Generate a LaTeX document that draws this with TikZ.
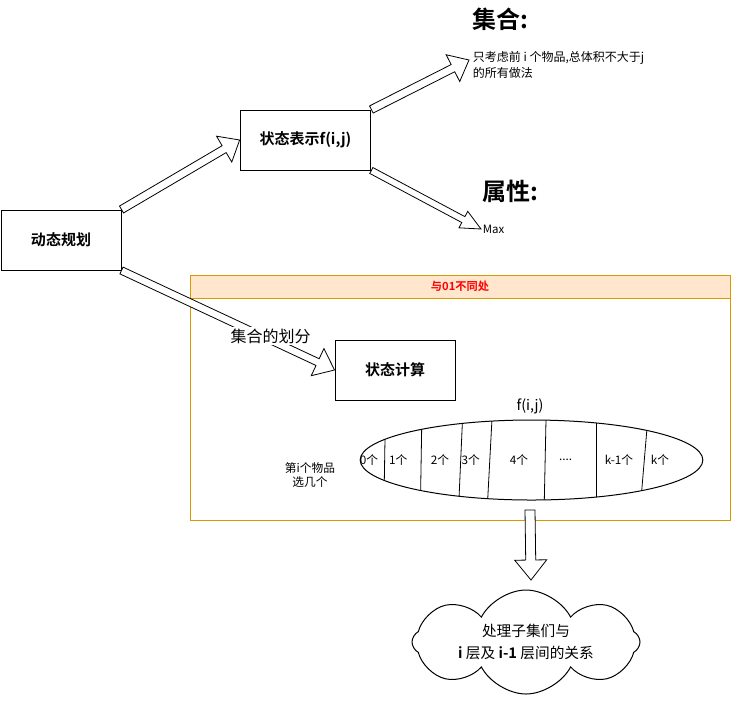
\documentclass[tikz,border=0pt]{standalone}
\usepackage{fontspec}
\setmainfont{Noto Sans CJK SC}[BoldFont={Noto Sans CJK SC Bold}]
\usetikzlibrary{calc, shapes.geometric, shapes.symbols}

\definecolor{frameorange}{HTML}{D79B00}
\definecolor{headorange}{HTML}{FFE6CC}
\newcommand{\fourdots}{....}

% block arrow: shaft half width, head half width, head length, from, to
\newcommand{\fatarrow}[5]{%
  \coordinate (fab) at ($(#5)!#3!(#4)$);
  \draw[fat arrow] ($(#4)!#1!90:(#5)$) -- ($(fab)!#1!-90:(#4)$)
    -- ($(fab)!#2!-90:(#4)$) -- (#5) -- ($(fab)!#2!90:(#4)$)
    -- ($(fab)!#1!90:(#4)$) -- ($(#4)!#1!-90:(#5)$) -- cycle;}

\begin{document}
\begin{tikzpicture}[x=0.75pt, y=-0.75pt, line width=0.75pt]
        % Setup the styles
        \tikzset{box style/.style={draw, minimum width=90pt, minimum height=45pt,
                                   inner sep=2pt,
                                   font=\fontsize{11.25}{13}\selectfont\bfseries},
                 head style/.style={inner sep=1pt, font=\fontsize{18}{20}\selectfont\bfseries},
                 note style/.style={inner sep=1pt, align=left,
                                    font=\fontsize{9}{12}\selectfont},
                 small style/.style={inner sep=1pt, align=center,
                                     font=\fontsize{8.8}{10.5}\selectfont},
                 fat arrow/.style={draw, fill=white, line width=0.6pt, line join=miter}}
        \useasboundingbox (0, 0) rectangle (731, 701);

        % The frame of the differences
        \draw[frameorange] (190, 275) rectangle (730, 520);
        \filldraw[draw=frameorange, fill=headorange] (190, 275) rectangle (730, 298);
        \node[small style, text=red, font=\fontsize{8.4}{10}\selectfont\bfseries]
            at (460, 286.5) (diff) {与01不同处};

        % Draw the boxes
        \node[box style] at (61, 240)    (dp)   {动态规划};
        \node[box style, minimum width=98pt] at (305.5, 140) (rep) {状态表示f(i,j)};
        \node[box style] at (395, 370)   (calc) {状态计算};

        % Texts on the right
        \node[head style] at (500, 19)   (setT)  {集合:};
        \node[note style, anchor=west] at (471, 65) (setD)
            {只考虑前 i 个物品,总体积不大于j\\的所有做法};
        \node[head style] at (510, 191)  (attrT) {属性:};
        \node[small style, anchor=west, font=\fontsize{8.6}{10}\selectfont]
            at (481, 229) (maxT) {Max};
        \coordinate (setTip) at (469, 60);

        % The set split into parts
        \node[small style, font=\fontsize{10.8}{12}\selectfont] at (530, 406) (fij) {f(i,j)};
        \node[draw, ellipse, minimum width=257pt, minimum height=60pt, inner sep=0pt]
            at (531.5, 460) (ell) {};
        \begin{scope}
            \clip (ell.center) ellipse [x radius=171.5, y radius=40];
            \foreach \xt/\xb in {385.4/383.9, 421.9/420.4, 462.7/458.7, 492.2/487.4,
                                 546.1/544.2, 596/596, 648.1/640.5}
                \draw[line width=0.6pt] (\xt, 415) -- (\xb, 505);
        \end{scope}
        \foreach \x/\t [count=\i] in {369/0个, 398.3/1个, 440/2个, 470.7/3个,
                                      519/4个, 565.7/\fourdots, 619/k-1个, 660/k个}
            \node[small style] at (\x, 460) (part\i) {\t};
        \node[small style] at (310, 475) (sel) {第i个物品\\选几个};

        % The cloud
        \node[draw, cloud, cloud puffs=8, cloud puff arc=125, cloud ignores aspect,
              minimum width=171pt, minimum height=78pt, inner sep=0pt]
            at (526, 642) (rel) {};
        \node[align=center, font=\fontsize{11}{16}\selectfont] at (rel.center) (relT)
            {处理子集们与\\\textbf{i} 层及 \textbf{i-1} 层间的关系};
        \coordinate (downS) at (530, 510);
        \coordinate (downE) at (531, 580);

        % Connect with block arrows
        \fatarrow{3pt}{11.25pt}{13.5pt}{dp.north east}{rep.west}
        \fatarrow{3pt}{11.25pt}{13.5pt}{rep.north east}{setTip}
        \fatarrow{2.5pt}{7pt}{15pt}{rep.south east}{maxT.west}
        \fatarrow{2.8pt}{11.25pt}{14pt}{dp.south east}{calc.west}
        \fatarrow{3.75pt}{12pt}{15pt}{downS}{downE}
        \node[fill=white, inner sep=1pt, font=\fontsize{12}{14}\selectfont]
            at ($(dp.south east)!0.7!(calc.west)+(0,-4)$) (split) {集合的划分};
\end{tikzpicture}
\end{document}
